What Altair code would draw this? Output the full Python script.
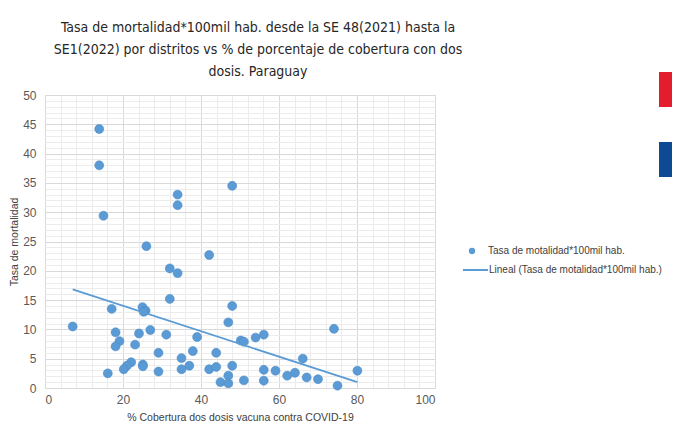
import altair as alt
import pandas as pd

# Data
cobertura = [13.9, 13.9, 15.0, 26.0, 34.0, 34.0, 48.0, 42.1, 32.0, 34.0,
             32.0, 17.1, 25.0, 25.8, 25.3, 48.0, 47.0, 7.1, 18.1, 27.0,
             24.1, 31.1, 19.1, 18.1, 23.1, 39.0, 50.2, 51.0, 29.1, 37.9,
             43.9, 35.0, 22.1, 21.0, 20.2, 25.1, 25.1, 37.0, 35.0, 42.1,
             43.9, 48.0, 16.1, 29.1, 47.0, 45.0, 47.0, 51.0, 54.0, 56.1,
             74.1, 66.1, 56.1, 59.1, 62.1, 64.1, 67.1, 70.0, 75.0, 80.1,
             56.1]
tasa = [44.2, 38.0, 29.4, 24.2, 33.0, 31.2, 34.5, 22.7, 20.4, 19.6,
        15.2, 13.5, 13.8, 13.2, 13.0, 14.0, 11.2, 10.5, 9.5, 9.9,
        9.3, 9.1, 8.0, 7.1, 7.4, 8.7, 8.1, 7.9, 6.0, 6.3,
        6.0, 5.1, 4.4, 3.8, 3.2, 4.0, 3.7, 3.8, 3.2, 3.2,
        3.6, 3.8, 2.5, 2.8, 2.1, 1.0, 0.8, 1.3, 8.6, 9.1,
        10.1, 5.0, 3.1, 2.95, 2.1, 2.6, 1.8, 1.5, 0.4, 2.95,
        1.25]

serie_puntos = "Tasa de motalidad*100mil hab."
serie_lineal = "Lineal (Tasa de motalidad*100mil hab.)"
titulo = ["Tasa de mortalidad*100mil hab. desde la SE 48(2021) hasta la",
          "SE1(2022) por distritos vs % de porcentaje de cobertura con dos",
          "dosis. Paraguay"]
eje_x = "% Cobertura dos dosis vacuna contra COVID-19"
eje_y = "Tasa de mortalidad"

df = pd.DataFrame({"x": cobertura, "y": tasa})

BLUE = "#5b9bd5"
LABEL = "#595959"
FONT = "Liberation Sans"
TFONT = "DejaVu Sans Condensed, sans-serif"

xscale = alt.Scale(domain=[0, 100], nice=False)
yscale = alt.Scale(domain=[0, 50], nice=False)

x_axis = alt.Axis(
    orient="bottom", values=list(range(0, 101, 4)), tickCount=100, format="d", grid=True,
    gridColor={"condition": {"test": "datum.value % 20 === 0", "value": "#d9d9d9"}, "value": "#ececec"},
    labelExpr="datum.value % 20 === 0 ? datum.label : ''", labelOverlap=False,
    ticks=False, domain=False, labelFont=FONT, labelFontSize=12,
    labelColor=LABEL, labelPadding=6, title=eje_x, titleFont=FONT,
    titleFontSize=10.5, titleFontWeight="normal", titleColor="#404040",
    titleY=29, titleBaseline="middle")
y_axis = alt.Axis(
    orient="left", values=list(range(0, 51, 1)), tickCount=100, format="d", grid=True,
    gridColor={"condition": {"test": "datum.value % 5 === 0", "value": "#d9d9d9"}, "value": "#ececec"},
    labelExpr="datum.value % 5 === 0 ? datum.label : ''", labelOverlap=False,
    ticks=False, domain=False, labelFont=FONT, labelFontSize=12,
    labelColor=LABEL, labelPadding=9, title=eje_y, titleFont=FONT,
    titleFontSize=10.5, titleFontWeight="normal", titleColor="#404040",
    titleX=-31, titleY=146.5, titleAngle=270, titleBaseline="middle")

base = alt.Chart(df)

points = base.mark_circle(size=80, opacity=1, stroke="#4a89c6", strokeWidth=0.6).transform_calculate(
    serie="'" + serie_puntos + "'"
).encode(
    x=alt.X("x:Q", scale=xscale, axis=x_axis),
    y=alt.Y("y:Q", scale=yscale, axis=y_axis),
    color=alt.Color("serie:N", scale=alt.Scale(domain=[serie_puntos], range=[BLUE]),
                    legend=alt.Legend(orient="none", legendX=422, legendY=151, title=None,
                                      padding=0, symbolSize=40, symbolType="circle",
                                      symbolStrokeWidth=0, labelFont=FONT, labelFontSize=10,
                                      labelColor="#404040", labelOffset=11, labelLimit=300)),
)

trend = base.transform_regression("x", "y").transform_calculate(
    serie="'" + serie_lineal + "'"
).mark_line(strokeWidth=1.8).encode(
    x=alt.X("x:Q", scale=xscale),
    y=alt.Y("y:Q", scale=yscale),
    stroke=alt.Stroke("serie:N", scale=alt.Scale(domain=[serie_lineal], range=[BLUE]),
                      legend=alt.Legend(orient="none", legendX=417, legendY=161.5, title=None,
                                        padding=0, symbolSize=625, symbolType="stroke",
                                        symbolStrokeWidth=2, labelFont=FONT, labelFontSize=10,
                                        labelColor="#404040", labelOffset=0, labelLimit=300)),
)

deco_data = alt.Data(values=[{"c": 1}])
deco_red = alt.Chart(deco_data).mark_rect(fill="#e31d2c").encode(
    x=alt.value(614), x2=alt.value(640), y=alt.value(-23), y2=alt.value(12))
deco_blue = alt.Chart(deco_data).mark_rect(fill="#0e4a93").encode(
    x=alt.value(614), x2=alt.value(640), y=alt.value(47), y2=alt.value(82))

chart = alt.layer(points, trend, deco_red, deco_blue).resolve_legend(
    color="independent", stroke="independent"
).properties(
    width=390, height=293,
    autosize=alt.AutoSizeParams(type="none"),
    padding={"left": 37, "top": 87, "right": 237, "bottom": 38},
    title=alt.TitleParams(text=titulo, font=TFONT, fontSize=14, fontWeight="normal",
                          color="#262626", lineHeight=22, anchor="middle", dx=18, dy=25,
                          offset=18),
).configure_view(stroke=None).configure(background="white")

chart.save("out.html", embed_options={"renderer": "svg", "actions": False})
